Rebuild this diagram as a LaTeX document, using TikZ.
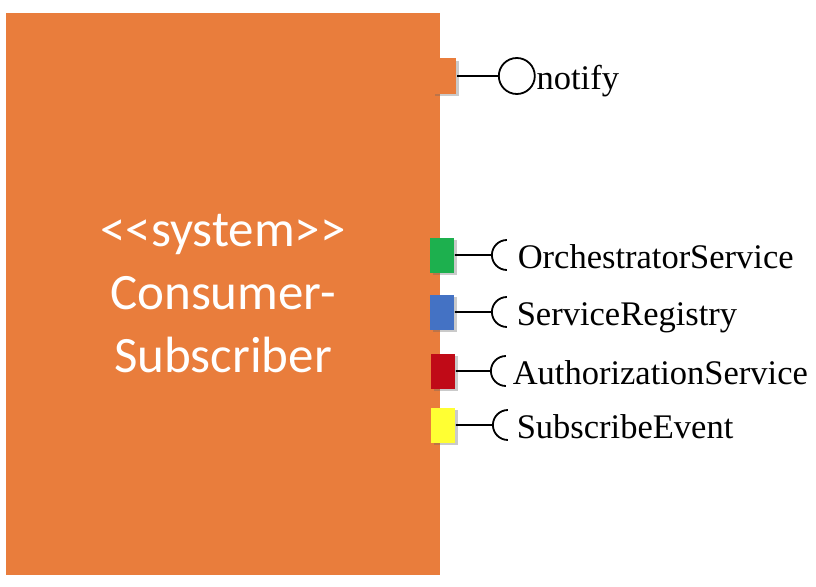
\documentclass[tikz,border=0pt]{standalone}
\usepackage{fontspec}
\setmainfont{Liberation Serif}
\newfontfamily\sysfont{Carlito}
\usetikzlibrary{positioning,shadows}
\definecolor{sysorange}{HTML}{E97D3C}
\definecolor{portgreen}{HTML}{1DB04E}
\definecolor{portblue}{HTML}{4472C4}
\definecolor{portred}{HTML}{C00A17}
\definecolor{portyellow}{HTML}{FFFF33}

\begin{document}
\begin{tikzpicture}[x=1pt, y=-1pt, line width=1.8pt,
  sysbox/.style={fill=sysorange,minimum width=434pt,minimum height=562pt,inner sep=0pt,
    text=white,align=center,font=\sysfont\fontsize{51}{63}\selectfont},
  port/.style={minimum width=24pt,minimum height=35pt,inner sep=0pt,
    drop shadow={shadow xshift=2.5pt,shadow yshift=-2.5pt,fill=black!60,opacity=0.35}},
  ball/.style={draw,circle,minimum size=36pt,inner sep=0pt},
  lbl/.style={inner sep=0pt,text height=30pt,text depth=4pt,font=\fontsize{34.5}{40}\selectfont}]
  \useasboundingbox (0,0) rectangle (816,586);
  \node[sysbox] (sys) at (223,294) {<\kern0pt<system>\kern0pt>\\Consumer-\\Subscriber};
  % provided interface
  \node[port, fill=sysorange] (pnot) at (444,76) {};
  \node[ball, right=41pt of pnot] (bnot) {};
  \node[lbl, right=0pt of bnot] (tnot) {notify};
  \draw (pnot) -- (bnot);
  % required interfaces
  \node[port, fill=portgreen] (porch) at (442,255) {};
  \node[port, fill=portblue] (preg) at (442,312) {};
  \node[port, fill=portred] (pauth) at (443,371) {};
  \node[port, fill=portyellow] (psub) at (443,425) {};
  \coordinate[right=37pt of porch] (sorch);
  \coordinate[right=37pt of preg] (sreg);
  \coordinate[right=35pt of pauth] (sauth);
  \coordinate[right=37pt of psub] (ssub);
  \draw (porch) -- (sorch) arc[start angle=180,end angle=90,radius=15pt]
    (sorch) arc[start angle=180,end angle=270,radius=15pt];
  \draw (preg) -- (sreg) arc[start angle=180,end angle=90,radius=15pt]
    (sreg) arc[start angle=180,end angle=270,radius=15pt];
  \draw (pauth) -- (sauth) arc[start angle=180,end angle=90,radius=15pt]
    (sauth) arc[start angle=180,end angle=270,radius=15pt];
  \draw (psub) -- (ssub) arc[start angle=180,end angle=90,radius=15pt]
    (ssub) arc[start angle=180,end angle=270,radius=15pt];
  \node[lbl, right=25pt of sorch] (torch) {OrchestratorService};
  \node[lbl, right=24pt of sreg] (treg) {ServiceRegistry};
  \node[lbl, right=21pt of sauth] (tauth) {AuthorizationService};
  \node[lbl, right=23pt of ssub] (tsub) {SubscribeEvent};
\end{tikzpicture}
\end{document}
